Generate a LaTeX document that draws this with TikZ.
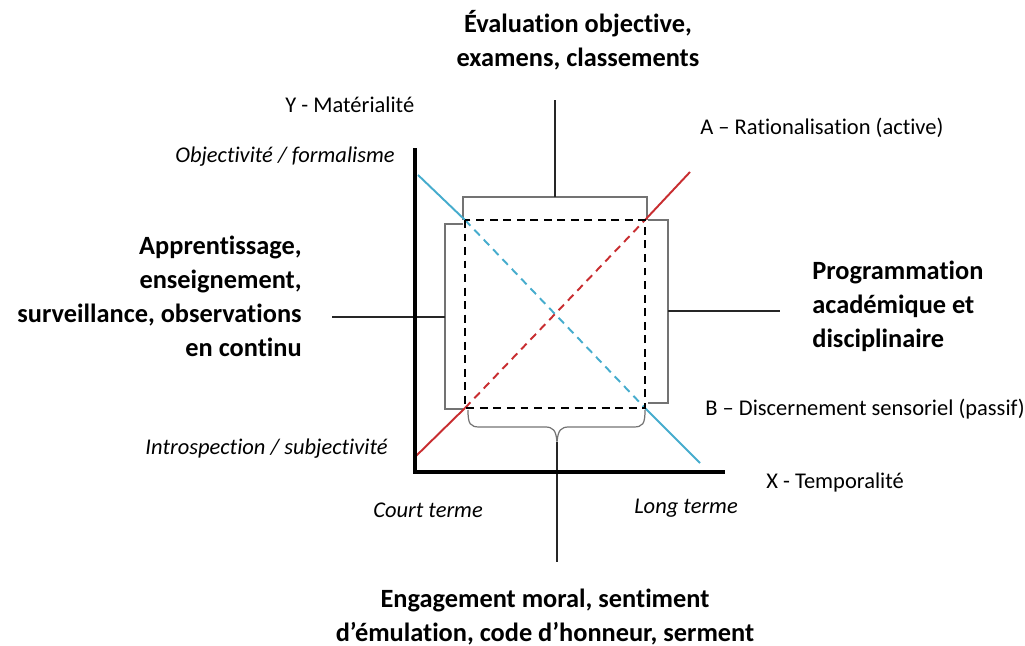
\documentclass[tikz,border=0pt]{standalone}
\usepackage{fontspec}
\setmainfont{Carlito}[Ligatures={TeX,NoCommon}]
\usetikzlibrary{positioning}
\definecolor{rougeA}{RGB}{200,45,48}
\definecolor{bleuB}{RGB}{70,172,205}
\definecolor{grisacc}{RGB}{115,115,115}

\begin{document}
\begin{tikzpicture}[x=0.02cm, y=-0.02cm,
    lbl/.style={inner sep=0pt, font=\fontsize{12.8}{15}\selectfont},
    lbli/.style={inner sep=0pt, font=\fontsize{12.8}{15}\selectfont\itshape},
    titre/.style={inner sep=0pt, font=\fontsize{15}{19.3}\selectfont\bfseries},
    axe/.style={line width=2.8pt},
    crochet/.style={grisacc, line width=0.7pt},
    trait/.style={black!85, line width=0.6pt},
    pointille/.style={line width=1.3pt, dash pattern=on 4.5pt off 3.2pt},
    droite/.style={line width=1.1pt}]

      \useasboundingbox (0,0) rectangle (1025,646);

      % Coordinates for the axes and the square
      \coordinate (O) at (415,472);
      \coordinate (ytop) at (415,148);
      \coordinate (xend) at (725,472);
      \coordinate (sqNW) at (465,220);
      \coordinate (sqNE) at (645,220);
      \coordinate (sqSE) at (645,408);
      \coordinate (sqSW) at (465,408);
      \coordinate (astart) at (415,457);
      \coordinate (aend) at (690,172);
      \coordinate (bstart) at (418,175);
      \coordinate (bend) at (700,463);

      % Nodes for the labels
      \node[lbl, anchor=west] (ylbl) at (285,105) {Y - Matérialité};
      \node[lbli, anchor=east] (objlbl) at (395,157) {Objectivité / formalisme};
      \node[lbl, anchor=west] (albl) at (700,128) {A -- Rationalisation (active)};
      \node[lbl, anchor=west] (blbl) at (705,409) {B -- Discernement sensoriel (passif)};
      \node[lbli, anchor=east] (subjlbl) at (388,449) {Introspection / subjectivité};
      \node[lbl, anchor=west] (xlbl) at (766,482) {X - Temporalité};
      \node[lbli] (court) at (428,510) {Court terme};
      \node[lbli] (long) at (686,508) {Long terme};
      \node[titre, align=center] (haut) at (578,40) {Évaluation objective,\\examens, classements};
      \node[titre, align=right, anchor=east] (gauche) at (302,296) {Apprentissage,\\enseignement,\\surveillance, observations\\en continu};
      \node[titre, align=left, anchor=west] (droit) at (812,306) {Programmation\\académique et\\disciplinaire};
      \node[titre, align=center] (bas) at (545,617) {Engagement moral, sentiment\\d’émulation, code d’honneur, serment};

      % Brackets and their ticks
      \coordinate (hautbr) at (555,197);
      \coordinate (hautfin) at (555,100);
      \coordinate (gauchebr) at (445,317);
      \coordinate (gauchefin) at (332,317);
      \coordinate (droitbr) at (668,311);
      \coordinate (droitfin) at (780,311);
      \coordinate (basbr) at (557,442);
      \coordinate (basfin) at (557,562);
      \draw[crochet] (463,220) -- (463,197) -- (647,197) -- (647,220);
      \draw[crochet] (463,224) -- (445,224) -- (445,409) -- (463,409);
      \draw[crochet] (648,220) -- (668,220) -- (668,403) -- (648,403);
      \draw[crochet] (468,410) .. controls (468,424) and (470,427) .. (480,427)
        -- (545,427) .. controls (553,427) and (556,430) .. (basbr)
        .. controls (558,430) and (561,427) .. (569,427)
        -- (633,427) .. controls (643,427) and (645,424) .. (645,410);
      \draw[trait] (hautbr) -- (hautfin);
      \draw[trait] (gauchebr) -- (gauchefin);
      \draw[trait] (droitbr) -- (droitfin);
      \draw[trait] (basbr) -- (basfin);

      % Lines A and B
      \draw[droite, rougeA] (astart) -- (sqSW);
      \draw[droite, rougeA, dash pattern=on 4.5pt off 3.2pt] (sqSW) -- (sqNE);
      \draw[droite, rougeA] (sqNE) -- (aend);
      \draw[droite, bleuB] (bstart) -- (sqNW);
      \draw[droite, bleuB, dash pattern=on 4.5pt off 3.2pt] (sqNW) -- (sqSE);
      \draw[droite, bleuB] (sqSE) -- (bend);

      % Dashed square
      \draw[pointille] (sqNW) rectangle (sqSE);

      % Axes
      \draw[axe] (ytop) -- (O) -- (xend);

\end{tikzpicture}
\end{document}
